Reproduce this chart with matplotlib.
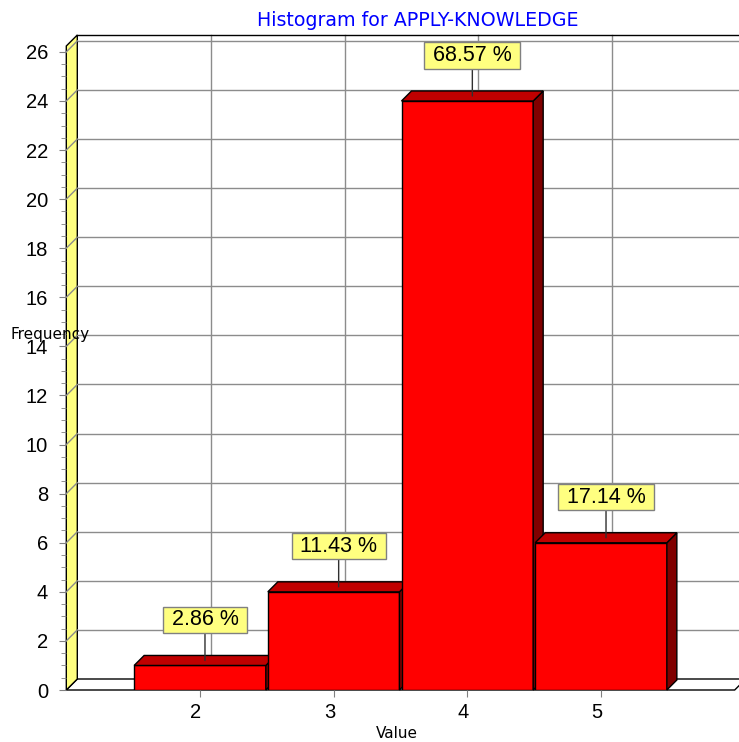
import matplotlib
matplotlib.use("Agg")
import matplotlib.pyplot as plt
from matplotlib.patches import Polygon
from matplotlib.ticker import MultipleLocator
from matplotlib.transforms import ScaledTranslation

# histogram data
values = [2, 3, 4, 5]
counts = [1, 4, 24, 6]
y_ticks = list(range(0, 27, 2))
title = "Histogram for APPLY-KNOWLEDGE"

FRONT = "#ff0000"
TOP = "#c00000"
SIDE = "#800000"
WALL = "#ffff80"
GRID = "#8c8c8c"
BAR_DEPTH = 10   # pixels
WALL_DEPTH = 11  # pixels

plt.rcParams['font.family'] = ['Liberation Sans', 'DejaVu Sans']

W, H = 739, 742
fig = plt.figure(figsize=(W / 100, H / 100), dpi=100)
ax = fig.add_axes([66.3 / W, 52 / H, 668.4 / W, 644 / H])
ax.set_xlim(1, 6)
ax.set_ylim(0, 26.24)
for s in ax.spines.values():
    s.set_visible(False)
ax.patch.set_visible(False)

inv = ax.transData.inverted()


def depth(px):
    (x0, y0), (x1, y1) = inv.transform([(0, 0), (px, px)])
    return x1 - x0, y1 - y0


x_lo, x_hi = ax.get_xlim()
top = ax.get_ylim()[1]
wdx, wdy = depth(WALL_DEPTH)
far = x_hi + 0.3

# back wall, floor and left wall
ax.add_patch(Polygon([(x_lo + wdx, wdy), (far, wdy), (far, top + wdy), (x_lo + wdx, top + wdy)],
                     closed=True, fc='white', ec='none', zorder=0, clip_on=False))
for y in y_ticks[1:]:
    ax.plot([x_lo + wdx, far], [y + wdy, y + wdy], color=GRID, lw=1, zorder=0.5, clip_on=False)
for v in values:
    ax.plot([v + wdx, v + wdx], [wdy, top + wdy], color=GRID, lw=1, zorder=0.5, clip_on=False)
ax.plot([x_lo + wdx, far], [top + wdy, top + wdy], color='black', lw=1, zorder=0.6, clip_on=False)

ax.add_patch(Polygon([(x_lo, 0), (x_hi, 0), (x_hi + wdx, wdy), (x_lo + wdx, wdy)],
                     closed=True, fc='white', ec='black', lw=1, zorder=1, clip_on=False))
ax.add_patch(Polygon([(x_lo, 0), (x_lo, top), (x_lo + wdx, top + wdy), (x_lo + wdx, wdy)],
                     closed=True, fc=WALL, ec='black', lw=1, zorder=1.5, clip_on=False))
for y in y_ticks[1:]:
    ax.plot([x_lo, x_lo + wdx], [y, y + wdy], color=GRID, lw=1, zorder=1.6, clip_on=False)

# bars with top and side faces
bdx, bdy = depth(BAR_DEPTH)
bars = ax.bar(values, counts, width=0.985, color=FRONT, edgecolor='black', linewidth=1)
for i, (rect, c) in enumerate(zip(bars, counts)):
    z = 3 + i
    rect.set_zorder(z)
    x0 = rect.get_x()
    x1 = x0 + rect.get_width()
    ax.add_patch(Polygon([(x1, 0), (x1 + bdx, bdy), (x1 + bdx, c + bdy), (x1, c)],
                         closed=True, fc=SIDE, ec='black', lw=1, zorder=z, clip_on=False))
    ax.add_patch(Polygon([(x0, c), (x1, c), (x1 + bdx, c + bdy), (x0 + bdx, c + bdy)],
                         closed=True, fc=TOP, ec='black', lw=1, zorder=z, clip_on=False))

# percentage labels
total = sum(counts)
for v, c in zip(values, counts):
    pct = 100 * c / total
    ax.annotate(f" {pct:.2f} % ", xy=(v + bdx / 2, c + bdy / 2), xytext=(0, 30),
                textcoords='offset pixels', ha='center', va='bottom', fontsize=15.5,
                bbox=dict(boxstyle='square,pad=0.12', fc=WALL, ec='#808080', lw=1),
                arrowprops=dict(arrowstyle='-', color='#303030', lw=1, shrinkA=0, shrinkB=0),
                zorder=20, annotation_clip=False)

# axes ticks
ax.set_yticks(y_ticks)
ax.yaxis.set_minor_locator(MultipleLocator(0.5))
ax.tick_params(axis='y', which='major', length=5, color='#808080', pad=8, labelsize=14.5)
ax.tick_params(axis='y', which='minor', length=3.6, color='#808080')
ax.set_xticks(values)
ax.tick_params(axis='x', length=5, color='#808080', pad=4, labelsize=14.5)
shift = ScaledTranslation(-4 / 100, 0, fig.dpi_scale_trans)
for lab in ax.get_xticklabels():
    lab.set_transform(lab.get_transform() + shift)

fig.text(418 / W, 1 - 20 / H, title, color='#0000ff', fontsize=13.7,
         family='DejaVu Sans', ha='center', va='center')
fig.text(10 / W, 1 - 334 / H, "Frequency", fontsize=11, family='DejaVu Sans',
         ha='left', va='center')
fig.text(397 / W, 1 - 734 / H, "Value", fontsize=11, family='DejaVu Sans',
         ha='center', va='center')

fig.savefig("out.png", dpi=100)
